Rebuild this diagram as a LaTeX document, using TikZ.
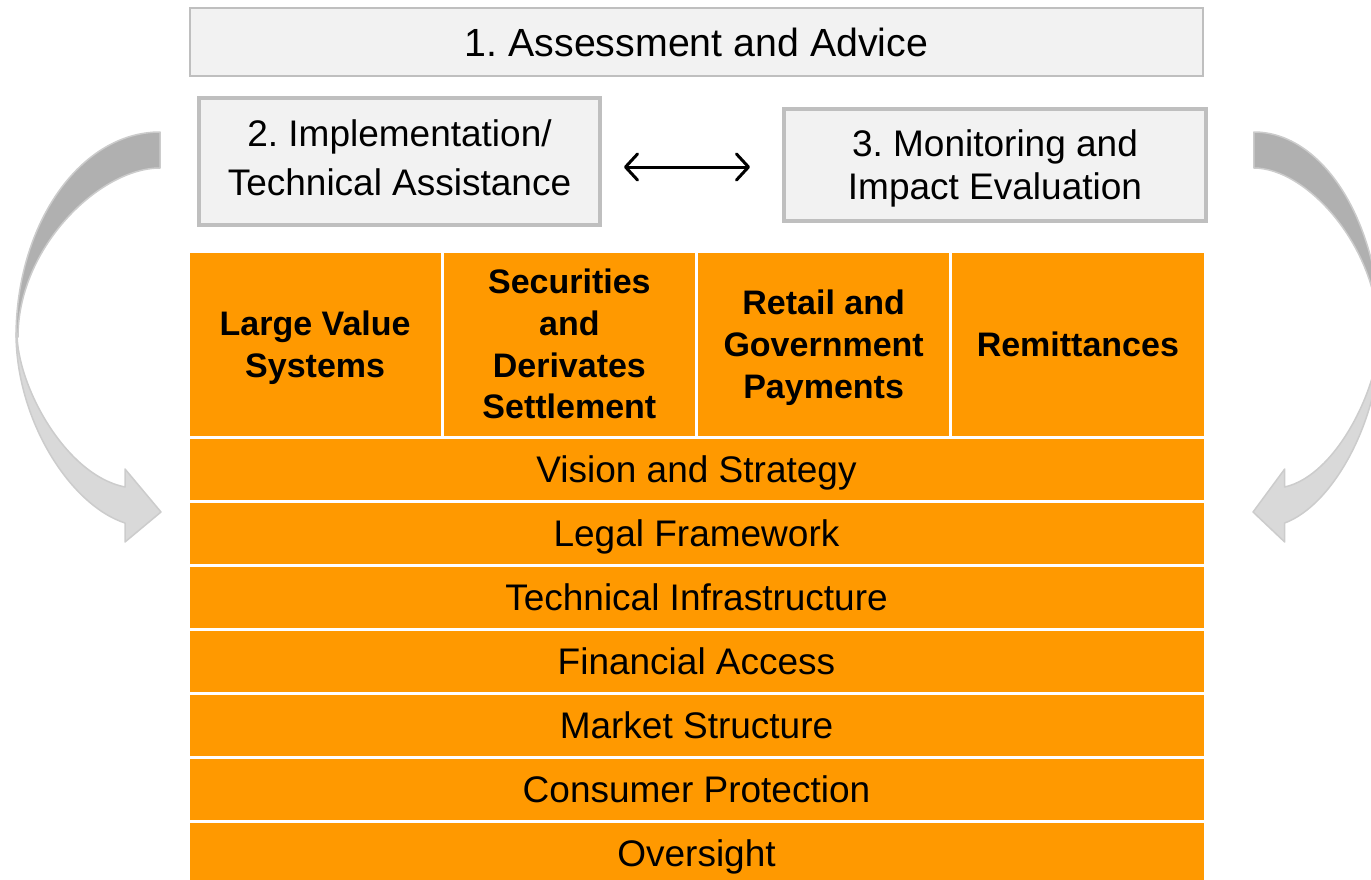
\documentclass[tikz,border=0pt]{standalone}
\usepackage{fontspec}
\setmainfont{Liberation Sans}
\usetikzlibrary{arrows.meta,positioning}
\frenchspacing

\definecolor{boxgray}{HTML}{F2F2F2}
\definecolor{linegray}{HTML}{BFBFBF}
\definecolor{pillar}{HTML}{FF9900}
\definecolor{darkband}{HTML}{B0B0B0}
\definecolor{lightband}{HTML}{D9D9D9}

\begin{document}
\begin{tikzpicture}[x=1pt, y=-1pt,
  stage/.style={draw=linegray, fill=boxgray, line width=4pt, align=center, inner sep=0pt, outer sep=0pt,
    font=\fontsize{37}{49}\selectfont},
  pillarcell/.style={fill=pillar, draw=white, line width=3pt, minimum width=254.25pt, minimum height=186pt,
    inner sep=0pt, outer sep=0pt, align=center, text depth=0pt, font=\fontsize{34}{41.7}\selectfont\bfseries},
  layer/.style={fill=pillar, draw=white, line width=3pt, minimum width=1017pt, minimum height=64pt,
    inner sep=0pt, outer sep=0pt, text height=27pt, text depth=0pt, font=\fontsize{37}{44}\selectfont},
  band/.style={draw=linegray!80, line width=1.5pt, line join=round}]

\useasboundingbox (0,0) rectangle (1371,879);
\clip (0,0) rectangle (1371,879);

% the three stages on top
\node[stage, line width=2pt, minimum width=1013pt, minimum height=68pt,
  font=\fontsize{39.3}{47}\selectfont] (assess) at (696.5,42) {1. Assessment and Advice};
\node[stage, minimum width=401pt, minimum height=127pt, text depth=8pt] (impl) at (399.5,161.5) {2. Implementation/\\Technical Assistance};
\node[stage, minimum width=422pt, minimum height=112pt, text depth=0pt,
  font=\fontsize{37}{43}\selectfont] (monitor) at (995,165) {3. Monitoring and\\Impact Evaluation};

\draw[{Straight Barb[length=12pt,width=26pt,round]}-{Straight Barb[length=12pt,width=26pt,round]}, line width=3pt,
  shorten <=24pt, shorten >=34pt] ([yshift=-5.5pt]impl.east) -- ([yshift=-5.5pt]impl.east -| monitor.west);

% the four pillars
\node[pillarcell, anchor=north west] (lvs) at (188,251) {Large Value\\Systems};
\node[pillarcell, right=0pt of lvs] (sec) {Securities\\and\\Derivates\\Settlement};
\node[pillarcell, right=0pt of sec] (retail) {Retail and\\Government\\Payments};
\node[pillarcell, right=0pt of retail] (remit) {Remittances};

% the layers underneath
\node[layer, below right=0pt and 0pt of lvs.south west] (vision) {Vision and Strategy};
\node[layer, below=0pt of vision] (legal) {Legal Framework};
\node[layer, below=0pt of legal] (infra) {Technical Infrastructure};
\node[layer, below=0pt of infra] (access) {Financial Access};
\node[layer, below=0pt of access] (market) {Market Structure};
\node[layer, below=0pt of market] (consumer) {Consumer Protection};
\node[layer, below=0pt of consumer] (oversight) {Oversight};

% curved arrows on both sides, the right one mirrored and a bit narrower
\foreach \s/\off in {1/0, -0.88/1394.7} {
  \begin{scope}[xshift=\off pt, xscale=\s]
    \filldraw[band, fill=darkband] (160,132) .. controls (80.5,132) and (16,224) .. (16,337)
      -- (18,337) .. controls (18,247) and (100,168) .. (160,168) -- cycle;
    \filldraw[band, fill=lightband] (16,333) .. controls (16,420) and (70,505) .. (125,523)
      -- (125,542) -- (161,512) -- (125,469) -- (125,487)
      .. controls (65,475) and (17,385) .. (17,333) -- cycle;
  \end{scope}
}

\end{tikzpicture}
\end{document}
